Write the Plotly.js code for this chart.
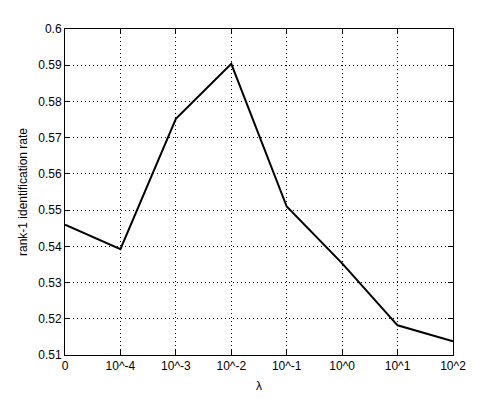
<!DOCTYPE html>
<html>
<head>
<meta charset="utf-8">
<script src="https://cdn.plot.ly/plotly-3.0.1.min.js"></script>
<style>
  html, body { margin: 0; padding: 0; background: #fff; }
  #chart { width: 500px; height: 400px; }
</style>
</head>
<body>
<div id="chart"></div>
<script>
// lambda values, shown as tick labels
var lambdaLabels = ['0', '10^-4', '10^-3', '10^-2', '10^-1', '10^0', '10^1', '10^2'];
var lambdaPos = [0, 1, 2, 3, 4, 5, 6, 7];
// rank-1 identification rate
var rank1Rate = [0.546, 0.5392, 0.5752, 0.5904, 0.551, 0.5353, 0.5182, 0.5138];

var yTicks = [0.51, 0.52, 0.53, 0.54, 0.55, 0.56, 0.57, 0.58, 0.59, 0.6];
var yTickText = ['0.51', '0.52', '0.53', '0.54', '0.55', '0.56', '0.57', '0.58', '0.59', '0.6'];

var trace = {
  x: lambdaPos,
  y: rank1Rate,
  type: 'scatter',
  mode: 'lines',
  line: { color: '#000', width: 2 },
  hoverinfo: 'skip'
};

var axisCommon = {
  showline: true,
  linecolor: '#000',
  linewidth: 1,
  mirror: 'ticks',
  ticks: 'inside',
  ticklen: 5,
  tickcolor: '#000',
  showgrid: true,
  gridcolor: '#000',
  griddash: '1px,3px',
  gridwidth: 1,
  zeroline: false,
  tickfont: { family: 'Liberation Sans, Arial, sans-serif', size: 12, color: '#000' }
};

var layout = {
  width: 500,
  height: 400,
  margin: { l: 65, r: 47, t: 29, b: 45 },
  paper_bgcolor: '#fff',
  plot_bgcolor: '#fff',
  showlegend: false,
  xaxis: Object.assign({}, axisCommon, {
    range: [0, 7],
    tickvals: lambdaPos,
    ticktext: lambdaLabels,
    title: { text: 'λ', standoff: 9, font: { family: 'Liberation Sans, Arial, sans-serif', size: 12, color: '#000' } }
  }),
  yaxis: Object.assign({}, axisCommon, {
    range: [0.51, 0.6],
    tickvals: yTicks,
    ticktext: yTickText,
    title: { text: 'rank-1 identification rate', standoff: 8, font: { family: 'Liberation Sans, Arial, sans-serif', size: 12, color: '#000' } }
  })
};

Plotly.newPlot('chart', [trace], layout, { staticPlot: true, displayModeBar: false });
</script>
</body>
</html>
